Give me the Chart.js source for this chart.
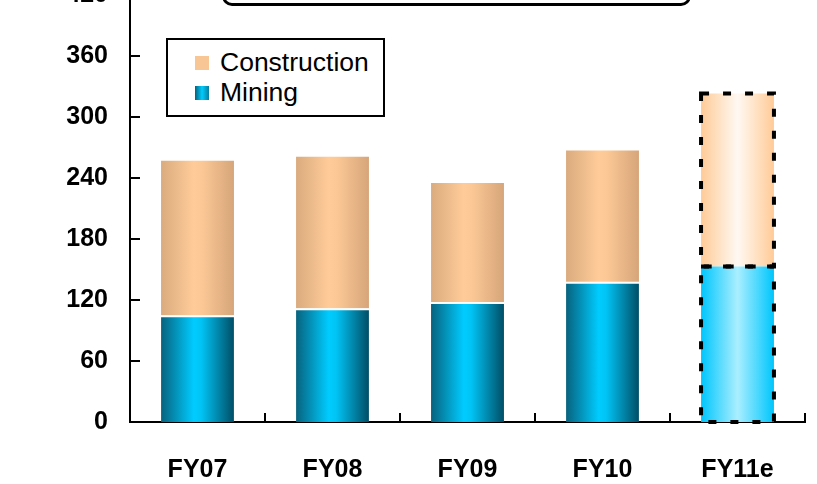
<!DOCTYPE html>
<html>
<head>
<meta charset="utf-8">
<script src="https://cdn.jsdelivr.net/npm/chart.js@4.4.1/dist/chart.umd.min.js"></script>
<style>
  body { margin: 0; background: #fff; overflow: hidden; }
  #wrap { position: absolute; left: 0; top: -42px; width: 817px; height: 526px; }
  #topbox { position: absolute; left: 222px; top: -40px; width: 463px; height: 40px;
    border: 3px solid #000; border-radius: 10px; background: #fff; }
  #legend { position: absolute; left: 166px; top: 38px; width: 215px; height: 75px;
    border: 2px solid #000; background: #fff; font-family: "Liberation Sans", Arial, sans-serif;
    font-size: 26.5px; color: #000; }
  .item { position: absolute; left: 27px; height: 30px; line-height: 30px; white-space: nowrap; }
  .sw { display: inline-block; width: 14px; height: 14px; margin-right: 11px; vertical-align: 1px; }
</style>
</head>
<body>
<div id="wrap"><canvas id="chart" width="817" height="526"></canvas></div>
<div id="topbox"></div>
<div id="legend">
  <div class="item" style="top:7px"><span class="sw" style="background:#f7c694"></span>Construction</div>
  <div class="item" style="top:37px"><span class="sw" style="background:linear-gradient(90deg,#06617d,#00ccff 50%,#0a7c9c)"></span>Mining</div>
</div>
<script>
// Data
const categories = ["FY07", "FY08", "FY09", "FY10", "FY11e"];
const mining = [105, 112, 118, 138, 153];
const construction = [152, 149, 117, 129, 170];
const yTicks = [0, 60, 120, 180, 240, 300, 360, 420];
const estimateIndex = 4;

const barPct = 0.54;

// horizontal gradient across one bar
function barGradient(ctx, stops) {
  const chart = ctx.chart;
  const xs = chart.scales.x;
  if (!chart.chartArea || !xs) return stops[1][1];
  const cx = xs.getPixelForValue(ctx.dataIndex);
  const half = (xs.width / categories.length) * barPct / 2;
  const g = chart.ctx.createLinearGradient(cx - half, 0, cx + half, 0);
  stops.forEach(s => g.addColorStop(s[0], s[1]));
  return g;
}

const miningStops = [[0, "#07627e"], [0.45, "#00ccff"], [0.55, "#00c4f4"], [1, "#004e66"]];
const miningEstStops = [[0, "#00c6fc"], [0.5, "#aaeeff"], [1, "#00c6fc"]];
const consStops = [[0, "#daab7e"], [0.45, "#ffcc99"], [0.55, "#fcc996"], [1, "#d6a579"]];
const consEstStops = [[0, "#ffcb97"], [0.5, "#fff9f2"], [1, "#ffcb97"]];

// inward tick marks + dashed outline on estimate bar
const extras = {
  id: "extras",
  afterDatasetsDraw(chart) {
    const c = chart.ctx;
    c.save();
    c.strokeStyle = "#000";
    c.lineWidth = 4;
    c.setLineDash([8, 14]);
    chart.data.datasets.forEach((ds, i) => {
      const bar = chart.getDatasetMeta(i).data[estimateIndex];
      const p = bar.getProps(["x", "y", "base", "width"], true);
      c.strokeRect(p.x - p.width / 2, p.y, p.width, p.base - p.y);
    });
    c.restore();
  },
  afterDraw(chart) {
    const c = chart.ctx;
    const ys = chart.scales.y, xs = chart.scales.x;
    const area = chart.chartArea;
    c.save();
    c.strokeStyle = "#000";
    c.lineWidth = 2;
    c.beginPath();
    yTicks.forEach(v => {
      const y = ys.getPixelForValue(v);
      c.moveTo(area.left, y);
      c.lineTo(area.left + 10, y);
    });
    for (let i = 1; i <= categories.length; i++) {
      const x = i === categories.length ? area.right
        : (xs.getPixelForValue(i - 1) + xs.getPixelForValue(i)) / 2;
      c.moveTo(x, area.bottom);
      c.lineTo(x, area.bottom - 9);
    }
    c.stroke();
    c.restore();
  }
};

const tickFont = { family: "'Liberation Sans Narrow', 'Arial Narrow', 'Liberation Sans', sans-serif", size: 25, weight: "bold" };

new Chart(document.getElementById("chart"), {
  type: "bar",
  data: {
    labels: categories,
    datasets: [
      {
        label: "Mining",
        data: mining,
        backgroundColor: ctx => barGradient(ctx, ctx.dataIndex === estimateIndex ? miningEstStops : miningStops),
        borderColor: "#fff",
        borderWidth: ctx => ctx.dataIndex === estimateIndex ? 0 : { top: 2, left: 0, right: 0, bottom: 0 },
        borderSkipped: false
      },
      {
        label: "Construction",
        data: construction,
        backgroundColor: ctx => barGradient(ctx, ctx.dataIndex === estimateIndex ? consEstStops : consStops),
        borderWidth: 0
      }
    ]
  },
  options: {
    responsive: false,
    animation: false,
    barPercentage: barPct,
    categoryPercentage: 1,
    layout: { padding: { top: 11, right: 12, left: 0, bottom: 0 } },
    plugins: { legend: { display: false }, tooltip: { enabled: false } },
    scales: {
      x: {
        stacked: true,
        grid: { display: false, drawTicks: false },
        border: { display: true, color: "#000", width: 2 },
        ticks: { color: "#000", font: tickFont, padding: 33, maxRotation: 0 },
        afterFit: s => { s.height = 62; }
      },
      y: {
        stacked: true,
        min: 0,
        max: 420,
        grid: { display: false, drawTicks: false },
        border: { display: true, color: "#000", width: 2 },
        afterBuildTicks: s => { s.ticks = yTicks.map(v => ({ value: v })); },
        ticks: { color: "#000", font: tickFont, padding: 22 },
        afterFit: s => { s.width = 130; }
      }
    }
  },
  plugins: [extras]
});
</script>
</body>
</html>
